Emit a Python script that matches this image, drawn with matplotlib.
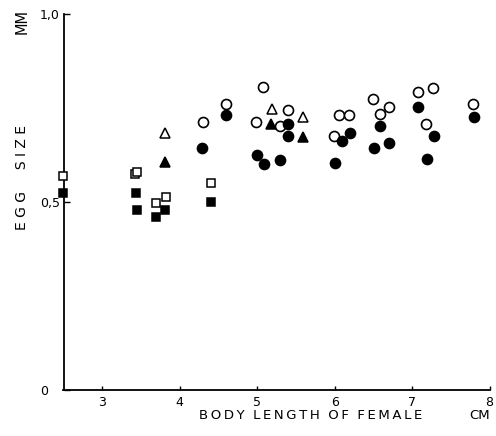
import matplotlib
matplotlib.use("Agg")
import matplotlib.pyplot as plt

plt.rcParams['font.family'] = ['Liberation Sans Narrow', 'DejaVu Sans']

# open / filled squares
sq_open_x = [2.5, 3.42, 3.45, 3.70, 3.82, 4.41]
sq_open_y = [0.570, 0.574, 0.580, 0.498, 0.513, 0.551]
sq_fill_x = [2.5, 3.43, 3.45, 3.81, 3.70, 4.41]
sq_fill_y = [0.523, 0.523, 0.479, 0.480, 0.459, 0.501]

# open / filled triangles
tri_open_x = [3.81, 5.19, 5.59]
tri_open_y = [0.683, 0.748, 0.725]
tri_fill_x = [3.81, 5.18, 5.59]
tri_fill_y = [0.607, 0.707, 0.672]

# open / filled circles
circ_open_x = [4.30, 4.60, 5.08, 4.99, 5.29, 5.40, 6.06, 6.19, 5.99,
               6.50, 6.70, 6.58, 7.08, 7.27, 7.18, 7.79]
circ_open_y = [0.714, 0.761, 0.806, 0.714, 0.702, 0.745, 0.732, 0.732, 0.676,
               0.775, 0.752, 0.735, 0.793, 0.804, 0.707, 0.761]
circ_fill_x = [4.29, 4.60, 5.40, 5.40, 5.00, 5.09, 5.29, 6.10, 6.20, 6.00,
               6.59, 6.70, 6.51, 7.08, 7.28, 7.19, 7.80]
circ_fill_y = [0.643, 0.731, 0.707, 0.676, 0.625, 0.601, 0.613, 0.663, 0.683, 0.605,
               0.701, 0.657, 0.643, 0.753, 0.676, 0.614, 0.726]

x_ticks = [3, 4, 5, 6, 7, 8]
y_ticks = [0, 0.5, 1.0]
y_tick_labels = ['0', '0,5', '1,0']

fig = plt.figure(figsize=(4.96, 4.36), dpi=100)
ax = fig.add_axes([63.5 / 496, 46 / 436, 426 / 496, 376 / 436])

kw = dict(linestyle='none', color='black', clip_on=False, zorder=3)
ax.plot(sq_open_x, sq_open_y, marker='s', ms=6, mfc='white', mew=1.1, **kw)
ax.plot(sq_fill_x, sq_fill_y, marker='s', ms=6, mfc='black', mew=1.1, **kw)
ax.plot(tri_open_x, tri_open_y, marker='^', ms=6.5, mfc='white', mew=1.1, **kw)
ax.plot(tri_fill_x, tri_fill_y, marker='^', ms=6.5, mfc='black', mew=1.1, **kw)
ax.plot(circ_open_x, circ_open_y, marker='o', ms=7.2, mfc='white', mew=1.2, **kw)
ax.plot(circ_fill_x, circ_fill_y, marker='o', ms=7.2, mfc='black', mew=1.2, **kw)

ax.set_xlim(2.5, 8)
ax.set_ylim(0, 1.0)
ax.spines['top'].set_visible(False)
ax.spines['right'].set_visible(False)
ax.spines['left'].set_linewidth(1.3)
ax.spines['bottom'].set_linewidth(1.3)

ax.set_xticks(x_ticks)
ax.tick_params(axis='x', direction='in', length=3, width=1, pad=4, labelsize=9)
ax.set_yticks(y_ticks, y_tick_labels)
ax.tick_params(axis='y', direction='in', length=4, width=1, pad=17, labelsize=9)
for lbl in ax.get_yticklabels():
    lbl.set_horizontalalignment('left')

ts = '\u2009'
xlabel = '  '.join(ts.join(w) for w in ['BODY', 'LENGTH', 'OF', 'FEMALE'])
fig.text(311 / 496, 1 - 415 / 436, xlabel, ha='center', va='center', fontsize=9.5)
fig.text(469 / 496, 1 - 415 / 436, 'CM', ha='left', va='center', fontsize=9.5)
fig.text(22 / 496, 1 - 22 / 436, 'MM', rotation=90, ha='center', va='center', fontsize=10.5)
fig.text(22 / 496, 1 - 177 / 436, 'E G G     S I Z E', rotation=90, ha='center',
         va='center', fontsize=10)

fig.savefig('out.png', dpi=100)
